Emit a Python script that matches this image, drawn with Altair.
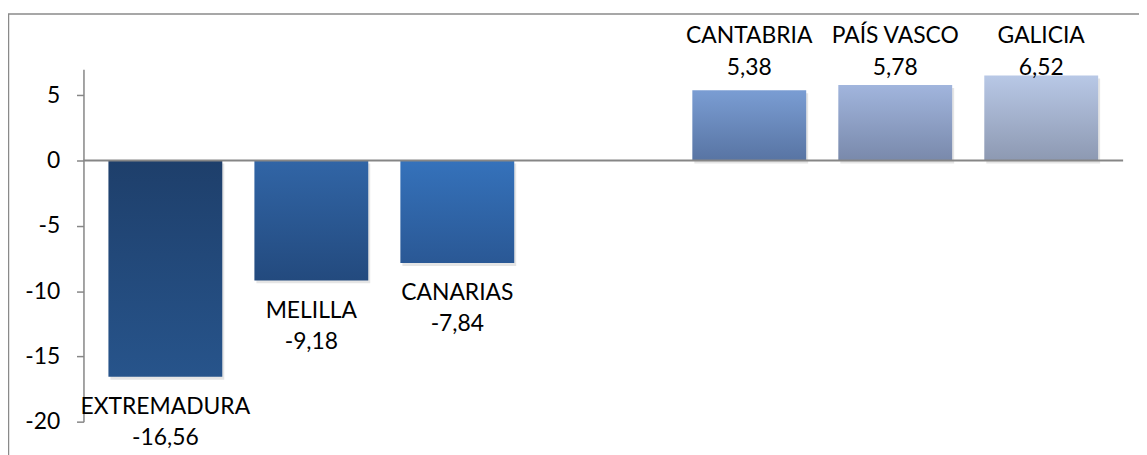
import altair as alt
import pandas as pd

# --- data ---
regions = ["EXTREMADURA", "MELILLA", "CANARIAS", "CANTABRIA", "PAÍS VASCO", "GALICIA"]
values = [-16.56, -9.18, -7.84, 5.38, 5.78, 6.52]
slot_order = ["EXTREMADURA", "MELILLA", "CANARIAS", " ", "CANTABRIA", "PAÍS VASCO", "GALICIA"]
y_ticks = [-20, -15, -10, -5, 0, 5]

# --- styles (top colour, bottom colour) ---
bar_colors = {
    "EXTREMADURA": ("#1e3f6b", "#27548b"),
    "MELILLA": ("#3165a6", "#234a7e"),
    "CANARIAS": ("#3572bb", "#2a5895"),
    "CANTABRIA": ("#7a9dd3", "#5874a3"),
    "PAÍS VASCO": ("#a1b5dd", "#7989ab"),
    "GALICIA": ("#b8c8e6", "#8d99b2"),
}

df = pd.DataFrame({"region": regions, "value": values})
df["label"] = [f"{v:.2f}".replace(".", ",") for v in values]

FONT = "Lato"
FS = 23
AXIS_GRAY = "#868686"

W, H = 1047, 355

x_enc = alt.X(
    "region:N",
    scale=alt.Scale(domain=slot_order, paddingInner=0.22, paddingOuter=0.171),
    axis=None,
)
y_scale = alt.Scale(domain=[-20, 7], nice=False, zero=False)

base = alt.Chart(df)

y_axis = alt.Axis(
    values=y_ticks,
    title=None,
    grid=False,
    domainColor=AXIS_GRAY,
    domainWidth=1.5,
    tickColor=AXIS_GRAY,
    tickWidth=1.5,
    tickSize=7,
    labelFont=FONT,
    labelFontSize=FS,
    labelColor="#000000",
    labelPadding=17,
    labelExpr="toString(datum.value)",
)

# soft drop shadow under the bars
shadow = base.mark_bar(color="#000000", opacity=0.10, xOffset=2, x2Offset=2, yOffset=3, y2Offset=3).encode(
    x=x_enc,
    y=alt.Y("value:Q", scale=y_scale, axis=y_axis),
    y2=alt.datum(0),
)

bar_layers = []
for name in regions:
    top, bottom = bar_colors[name]
    grad = alt.Gradient(
        gradient="linear",
        stops=[alt.GradientStop(color=top, offset=0), alt.GradientStop(color=bottom, offset=1)],
        x1=0, x2=0, y1=0, y2=1,
    )
    layer = base.transform_filter(alt.datum.region == name).mark_bar(color=grad).encode(
        x=x_enc,
        y=alt.Y("value:Q", scale=y_scale, axis=y_axis),
        y2=alt.datum(0),
    )
    bar_layers.append(layer)

zero_rule = alt.Chart(pd.DataFrame({"z": [0]})).mark_rule(color=AXIS_GRAY, strokeWidth=2).encode(
    y=alt.Y("z:Q", scale=y_scale)
)

neg = base.transform_filter(alt.datum.value < 0)
pos = base.transform_filter(alt.datum.value > 0)

txt = dict(font=FONT, fontSize=FS, color="#000000", align="center", baseline="alphabetic")

neg_name = neg.mark_text(dy=37.5, **txt).encode(x=x_enc, y=alt.Y("value:Q", scale=y_scale), text="region:N")
neg_val = neg.mark_text(dy=69, **txt).encode(x=x_enc, y=alt.Y("value:Q", scale=y_scale), text="label:N")
pos_name = pos.mark_text(dy=-26, **txt).encode(x=x_enc, y=alt.datum(7, scale=y_scale), text="region:N")
pos_val = pos.mark_text(dy=6, **txt).encode(x=x_enc, y=alt.datum(7, scale=y_scale), text="label:N")

frame = alt.Chart(alt.Data(values=[{}])).mark_rect(
    filled=False, stroke="#8a8a8a", strokeWidth=1.5
).encode(
    x=alt.value(-75.5), x2=alt.value(1200), y=alt.value(-55.5), y2=alt.value(500)
)

chart = alt.layer(
    frame, shadow, *bar_layers, zero_rule, neg_name, neg_val, pos_name, pos_val
).properties(
    width=W,
    height=H,
    padding={"left": 76, "top": 60, "right": 16, "bottom": 32},
    autosize=alt.AutoSizeParams(type="none"),
    background="white",
).configure_view(strokeWidth=0)

chart.save("out.html", embed_options={"renderer": "svg", "actions": False})
